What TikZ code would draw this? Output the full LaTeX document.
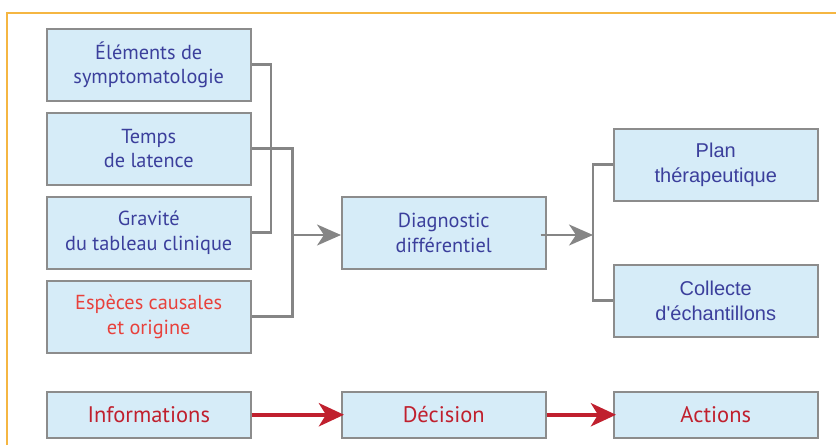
\documentclass[tikz,border=0pt]{standalone}
\usepackage{fontspec}
\setmainfont{PT Sans}
\newfontfamily\arialfont{Liberation Sans}
\usetikzlibrary{arrows.meta}
\definecolor{boxfill}{HTML}{D6ECF8}
\definecolor{boxline}{HTML}{8C8C8C}
\definecolor{bluetext}{HTML}{3B3F9C}
\definecolor{redtext}{HTML}{E8413C}
\definecolor{crimson}{HTML}{C0202E}
\definecolor{connector}{HTML}{858585}
\definecolor{frameorange}{HTML}{F5B642}
\tikzset{
  infobox/.style={draw=boxline, line width=1.5pt, fill=boxfill, minimum width=204pt, minimum height=72pt, inner sep=0pt, align=center, text=bluetext, font=\fontsize{20.3}{24.5}\selectfont, anchor=north west},
  actbox/.style={infobox, font=\arialfont\fontsize{20}{24.5}\selectfont},
  flowbox/.style={infobox, minimum height=46pt, text=crimson, font=\fontsize{22.5}{26}\selectfont},
  link/.style={draw=connector, line width=2.6pt},
  grayarrow/.style={link, -{Stealth[length=24pt,width=21pt,inset=7pt]}},
  redarrow/.style={draw=crimson, line width=4.5pt, -{Stealth[length=25pt,width=23pt,inset=7pt]}},
}
\begin{document}
\begin{tikzpicture}[x=1pt,y=-1pt]
\useasboundingbox (0,0) rectangle (836,445);
\draw[frameorange, line width=1.5pt] (7,445) -- (7,13) -- (836,13);
\node[infobox] (e1) at (46,28) {Éléments de\\symptomatologie};
\node[infobox] (e2) at (46,112) {Temps\\de latence};
\node[infobox] (e3) at (46,196) {Gravité\\du tableau clinique};
\node[infobox, text=redtext] (e4) at (46,280) {Espèces causales\\et origine};
\node[infobox] (dd) at (341,196) {Diagnostic\\différentiel};
\node[actbox] (pt) at (613,128) {Plan\\thérapeutique};
\node[actbox] (ce) at (613,264) {Collecte\\d'échantillons};
\node[flowbox] (inf) at (46,391) {Informations};
\node[flowbox] (dec) at (341,391) {Décision};
\node[flowbox] (act) at (613,391) {Actions};
\coordinate (j1) at (291,235);
\coordinate (j2) at (593,235);
\draw[link] (e1.east) -| (271,0 |- e3.east) -- (e3.east);
\draw[link] (e2.east) -- ++(41,0) |- (e4.east);
\draw[grayarrow] (j1) -- (j1 -| dd.west);
\draw[grayarrow] ([xshift=-6pt]j1 -| dd.east) -- (j2);
\draw[link] (pt.west) -| (j2) |- (ce.west);
\draw[redarrow] (inf) -- ([xshift=3pt]dec.west);
\draw[redarrow] (dec) -- ([xshift=3pt]act.west);
\end{tikzpicture}
\end{document}
